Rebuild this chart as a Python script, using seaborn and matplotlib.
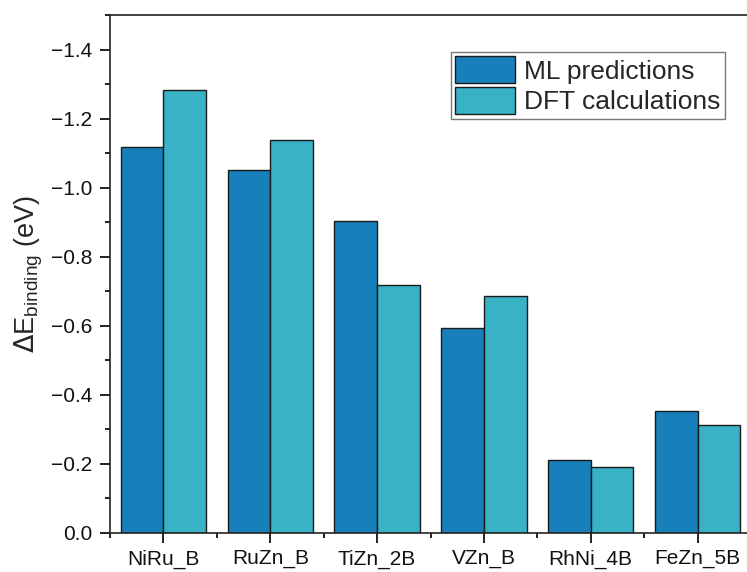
import matplotlib
matplotlib.use("Agg")
import matplotlib.pyplot as plt
from matplotlib.ticker import MultipleLocator, FixedLocator, FuncFormatter
import pandas as pd
import seaborn as sns

# Binding energies (eV) for each alloy site
systems = ["NiRu_B", "RuZn_B", "TiZn_2B", "VZn_B", "RhNi_4B", "FeZn_5B"]
ml_predictions = [-1.118, -1.052, -0.903, -0.594, -0.211, -0.352]
dft_calculations = [-1.284, -1.139, -0.717, -0.686, -0.191, -0.313]
series_names = ["ML predictions", "DFT calculations"]
series_colors = ["#1780bb", "#38b2c4"]

df = pd.DataFrame({
    "system": systems * 2,
    "energy": ml_predictions + dft_calculations,
    "method": [series_names[0]] * len(systems) + [series_names[1]] * len(systems),
})

sns.set_theme(style="ticks")
plt.rcParams["font.family"] = ["Liberation Sans", "DejaVu Sans"]

fig = plt.figure(figsize=(7.47, 5.72), dpi=100)
ax = fig.add_axes([110 / 747, 39.3 / 572, 641 / 747, 517.7 / 572])

sns.barplot(
    data=df, x="system", y="energy", hue="method",
    palette=series_colors, width=0.8, edgecolor="#1a1a1a", linewidth=1.0,
    saturation=1.0, ax=ax, legend=True,
)

ax.set_xlim(-0.5, len(systems) - 0.5)
ax.set_ylim(0, -1.5)
ax.yaxis.set_minor_locator(MultipleLocator(0.1))
ax.xaxis.set_minor_locator(FixedLocator([i - 0.5 for i in range(len(systems) + 1)]))
ax.set_yticks([0.0, -0.2, -0.4, -0.6, -0.8, -1.0, -1.2, -1.4])
ax.yaxis.set_major_formatter(FuncFormatter(
    lambda v, p: ("%.1f" % v).replace("-", "\u2212") if abs(v) > 1e-9 else "0.0"))

ax.set_xlabel("")
ax.set_ylabel(r"$\Delta$E$_{\mathregular{binding}}$ (eV)", fontsize=19.5, labelpad=4)
ax.tick_params(axis="both", which="major", direction="out", length=7, width=1.3,
               labelsize=15, color="#111111", labelcolor="#111111")
ax.tick_params(axis="both", which="minor", direction="out", length=3.5, width=1.3,
               color="#111111")
ax.tick_params(axis="x", which="major", pad=5)
ax.tick_params(axis="y", which="major", pad=6)

for side in ["left", "bottom", "top", "right"]:
    ax.spines[side].set_linewidth(1.2)
    ax.spines[side].set_color("#222222")

leg = ax.legend(
    loc="upper right", bbox_to_anchor=(725 / 747, 1 - 51.7 / 572),
    bbox_transform=fig.transFigure, fontsize=19, frameon=True, fancybox=False,
    edgecolor="#555555", handlelength=2.25, handleheight=1.2, labelspacing=0.1,
    handletextpad=0.35, borderpad=0.18, borderaxespad=0,
)
leg.get_frame().set_linewidth(1.0)

fig.savefig("out.png", dpi=100)
